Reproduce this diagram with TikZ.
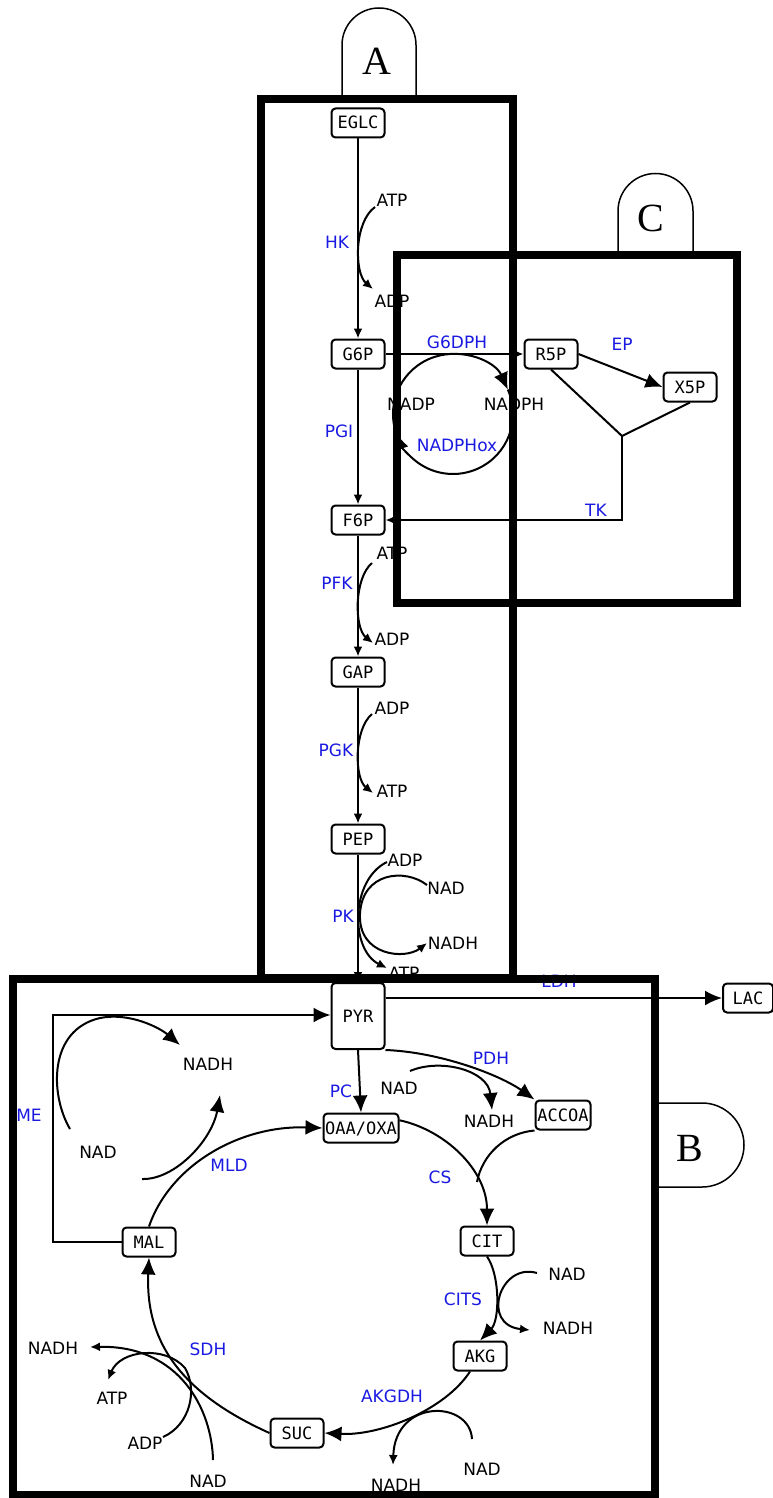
\documentclass[tikz,border=0pt]{standalone}
\usepackage{fontspec}
\newfontfamily\labf{DejaVu Sans}
\newfontfamily\monof{DejaVu Sans Mono}
\newfontfamily\serf{Liberation Serif}
\usetikzlibrary{arrows.meta,calc}
\definecolor{enzblue}{RGB}{25,25,225}
\begin{document}
\begin{tikzpicture}[x=1pt,y=1pt,
 met/.style={draw,line width=2pt,rounded corners=4pt,minimum width=53pt,minimum height=29pt,inner sep=1pt,fill=white,font=\monof\fontsize{17}{17}\selectfont,text height=12pt,text depth=0pt},
 lab/.style={inner sep=0pt,font=\labf\fontsize{17}{17}\selectfont},
 enz/.style={lab,text=enzblue},
 con/.style={line width=2pt},
 sa/.style={-{Latex[length=10pt,width=9pt]}},
 ba/.style={-{Latex[length=17pt,width=15pt]}},
 frm/.style={line width=7.5pt},
 tabs/.style={draw,line width=1.5pt,fill=white},
 big/.style={inner sep=0pt,font=\serf\fontsize{40}{40}\selectfont}]
\useasboundingbox (0,0) rectangle (773,-1498);

% metabolites
\node[met] (eglc) at (358,-123) {EGLC};
\node[met] (g6p) at (358,-354) {G6P};
\node[met] (r5p) at (551,-354) {R5P};
\node[met] (x5p) at (690,-387) {X5P};
\node[met] (f6p) at (358,-520) {F6P};
\node[met] (gap) at (358,-672) {GAP};
\node[met] (pep) at (358,-839) {PEP};
\node[met,minimum height=66pt] (pyr) at (358,-1016) {PYR};
\node[met,minimum width=50pt] (lac) at (748,-998) {LAC};
\node[met,minimum width=75pt] (oaa) at (361,-1128) {OAA/OXA};
\node[met,minimum width=55pt] (accoa) at (563,-1115) {ACCOA};
\node[met] (cit) at (487,-1241) {CIT};
\node[met] (akg) at (480,-1356) {AKG};
\node[met] (suc) at (297,-1433) {SUC};
\node[met] (mal) at (149,-1242) {MAL};

% labels
\node[enz] (lhk) at (337,-242) {HK};
\node[lab] (hkatp) at (392,-200) {ATP};
\node[lab] (hkadp) at (392,-301) {ADP};
\node[enz] (lpgi) at (339,-431) {PGI};
\node[enz] (lg6dph) at (457,-342) {G6DPH};
\node[lab] (nadp) at (411,-404) {NADP};
\node[lab] (nadph) at (514,-404) {NADPH};
\node[enz] (lnadphox) at (457,-445) {NADPHox};
\node[enz] (lep) at (622,-344) {EP};
\node[enz] (ltk) at (596,-510) {TK};
\node[lab] (pfkatp) at (392,-553) {ATP};
\node[enz] (lpfk) at (337,-583) {PFK};
\node[lab] (pfkadp) at (392,-639) {ADP};
\node[lab] (pgkadp) at (392,-708) {ADP};
\node[enz] (lpgk) at (336,-750) {PGK};
\node[lab] (pgkatp) at (392,-791) {ATP};
\node[lab] (pkadp) at (405,-860) {ADP};
\node[lab] (pknad) at (446,-888) {NAD};
\node[enz] (lpk) at (343,-916) {PK};
\node[lab] (pknadh) at (453,-943) {NADH};
\node[lab] (pkatp) at (404,-973) {ATP};
\node[enz] (lldh) at (559,-981) {LDH};
\node[enz] (lme) at (29,-1115) {ME};
\node[lab] (menadh) at (208,-1064) {NADH};
\node[lab] (menad) at (98,-1152) {NAD};
\node[enz] (lpc) at (341,-1091) {PC};
\node[lab] (pdhnad) at (399,-1088) {NAD};
\node[enz] (lpdh) at (491,-1058) {PDH};
\node[lab] (pdhnadh) at (489,-1121) {NADH};
\node[enz] (lmld) at (229,-1165) {MLD};
\node[enz] (lcs) at (440,-1177) {CS};
\node[lab] (citsnad) at (567,-1274) {NAD};
\node[enz] (lcits) at (463,-1299) {CITS};
\node[lab] (citsnadh) at (568,-1328) {NADH};
\node[enz] (lakgdh) at (392,-1396) {AKGDH};
\node[lab] (akgnad) at (482,-1469) {NAD};
\node[lab] (akgnadh) at (396,-1485) {NADH};
\node[enz] (lsdh) at (208,-1349) {SDH};
\node[lab] (sdhnadh) at (53,-1348) {NADH};
\node[lab] (sdhatp) at (112,-1398) {ATP};
\node[lab] (sdhadp) at (145,-1443) {ADP};
\node[lab] (sdhnad) at (208,-1481) {NAD};

% glycolysis
\draw[con,sa] (eglc) -- (g6p);
\draw[con,sa] (g6p) -- (f6p);
\draw[con,sa] (f6p) -- (gap);
\draw[con,sa] (gap) -- (pep);
\draw[con,sa] (pep) -- (pyr);
\coordinate (hk1) at (375,-207); \coordinate (hk2) at (373,-289);
\draw[con,sa] (hk1) .. controls (354,-222) and (354,-273) .. (hk2);
\coordinate (pfk1) at (372,-563); \coordinate (pfk2) at (373,-643);
\draw[con,sa] (pfk1) .. controls (354,-578) and (354,-628) .. (pfk2);
\coordinate (pgk1) at (372,-714); \coordinate (pgk2) at (373,-793);
\draw[con,sa] (pgk1) .. controls (354,-729) and (354,-778) .. (pgk2);
\coordinate (pk1) at (387,-862); \coordinate (pk2) at (387,-968);
\draw[con,sa] (pk1) .. controls (350,-880) and (350,-950) .. (pk2);
\coordinate (pk3) at (427,-885); \coordinate (pk4) at (427,-943); \coordinate (pk5) at (360,-914);
\draw[con,sa] (pk3) .. controls (405,-868) and (362,-872) .. (pk5) .. controls (358,-956) and (405,-960) .. (pk4);

% pentose phosphate
\draw[con,sa] (g6p) -- (r5p);
\coordinate (cc) at (453,-414);
\draw[con,ba] ($(cc)+(198:60)$) arc[start angle=198,end angle=24,radius=60];
\draw[con,ba] ($(cc)+(24:60)$) arc[start angle=24,end angle=-162,radius=60];
\draw[con,ba] (r5p.east) -- (x5p.west);
\coordinate (tkj) at (622,-436); \coordinate (tkc) at (622,-520);
\draw[con] (r5p.south) -- (tkj) -- (x5p.south);
\draw[con,sa] (tkj) -- (tkc) -- (f6p.east);

% pyruvate branch
\draw[con,ba] (pyr.east |- lac.west) -- (lac.west);
\coordinate (me1) at (53,-1242); \coordinate (me2) at (53,-1015);
\draw[con,ba] (mal.west) -- (me1) -- (me2) -- (me2 -| pyr.west);
\draw[con,ba] (pyr.south) -- (oaa.north);
\draw[con,ba] (pyr.south east) .. controls (440,-1052) and (500,-1075) .. (accoa.north west);
\coordinate (pdh1) at (410,-1071); \coordinate (pdh2) at (492,-1110);
\draw[con,ba] (pdh1) .. controls (440,-1058) and (488,-1070) .. (pdh2);

% TCA
\coordinate (cs0) at ($(oaa.east)!0.5!(oaa.north east)$);
\draw[con,ba] (cs0) .. controls (445,-1130) and (487,-1170) .. (cit.north);
\coordinate (csj) at (477,-1182);
\draw[con] (accoa.south west) .. controls (505,-1133) and (482,-1155) .. (csj);
\draw[con,ba] (cit.south) .. controls (500,-1275) and (500,-1320) .. (akg.north);
\coordinate (cits1) at (537,-1273); \coordinate (cits2) at (530,-1330);
\draw[con,sa] (cits1) .. controls (500,-1262) and (480,-1325) .. (cits2);
\coordinate (akgb) at ($(akg.south)+(-10,0)$);
\draw[con,ba] (akgb) .. controls (445,-1410) and (380,-1436) .. (suc.east);
\coordinate (akg1) at (472,-1439); \coordinate (akg2) at (393,-1465);
\draw[con,sa] (akg1) .. controls (470,-1400) and (395,-1398) .. (akg2);
\draw[con,ba] (suc.west) .. controls (185,-1395) and (145,-1345) .. (mal.south);
\coordinate (sdh1) at (213,-1460); \coordinate (sdh2) at (90,-1347);
\draw[con,sa] (sdh1) .. controls (212,-1410) and (180,-1345) .. (sdh2);
\coordinate (sdh3) at (163,-1437); \coordinate (sdh4) at (185,-1368); \coordinate (sdh5) at (108,-1380);
\draw[con,sa] (sdh3) .. controls (190,-1425) and (198,-1390) .. (sdh4) .. controls (165,-1345) and (120,-1350) .. (sdh5);
\draw[con,ba] (mal.north) .. controls (170,-1165) and (240,-1125) .. (oaa.west);
\coordinate (mld1) at (142,-1179); \coordinate (mld2) at (220,-1095);
\draw[con,ba] (mld1) .. controls (175,-1180) and (212,-1140) .. (mld2);
\coordinate (me3) at (70,-1129); \coordinate (me4) at (100,-1018); \coordinate (me5) at (180,-1045);
\draw[con,ba] (me3) .. controls (50,-1095) and (48,-1030) .. (me4) .. controls (130,-1012) and (160,-1028) .. (me5);

% tabs
\draw[tabs] (342,-99) -- (342,-45) arc[start angle=180,end angle=0,radius=37] -- (416,-99);
\draw[tabs] (618,-255) -- (618,-211) arc[start angle=180,end angle=0,radius=37.5] -- (693,-255);
\draw[tabs] (655,-1103) -- (702,-1103) arc[start angle=90,end angle=-90,radius=42] -- (655,-1187);
\node[big] (ta) at (377,-61) {A};
\node[big] (tc) at (651,-218) {C};
\node[big] (tb) at (690,-1148) {B};

% frames
\draw[frm] (261,-99) rectangle (513,-978);
\draw[frm] (397,-255) rectangle (737,-603);
\draw[frm] (13,-979) rectangle (655,-1495);
\end{tikzpicture}
\end{document}
